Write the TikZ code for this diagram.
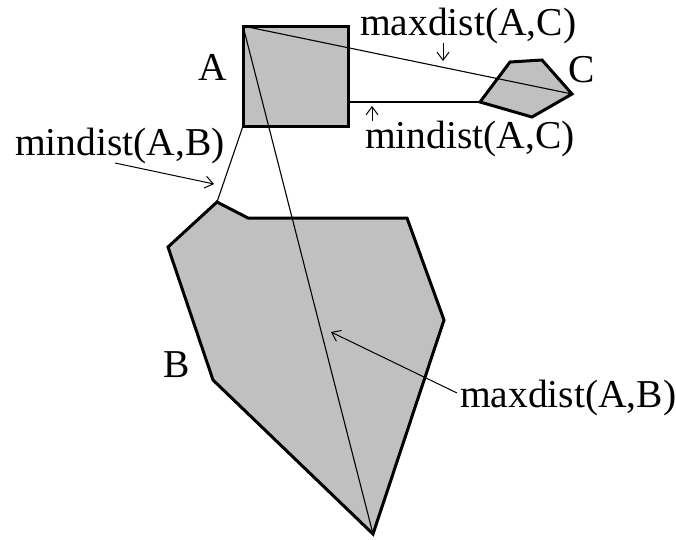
\documentclass[tikz,border=0pt]{standalone}
\usepackage{fontspec}
\setmainfont{Liberation Serif}
\usepackage{tikz}
\usetikzlibrary{arrows.meta, calc}
\definecolor{RegionGray}{RGB}{192,192,192}

\tikzset{
  region/.style={fill=RegionGray, draw=black, line width=3pt, line join=miter},
  distline/.style={draw=black, line width=1.1pt},
  pointer/.style={draw=black, line width=1pt, -{Straight Barb[length=8pt, width=12pt]}},
  lbl/.style={inner sep=0pt, anchor=base west, font=\fontsize{39.5}{42}\selectfont}
}

\begin{document}
\begin{tikzpicture}[x=1pt, y=-1pt]

  % Canvas
  \useasboundingbox (0,0) rectangle (676,539);

  % Region A (square)
  \coordinate (a1) at (243,26);
  \coordinate (a2) at (348,26);
  \coordinate (a3) at (348,126);
  \coordinate (a4) at (243,126);
  \draw[region] (a1) -- (a2) -- (a3) -- (a4) -- cycle;

  % Region C
  \coordinate (c1) at (510,62);
  \coordinate (c2) at (542,60);
  \coordinate (c3) at (572,94);
  \coordinate (c4) at (532,117);
  \coordinate (c5) at (480,102);
  \draw[region] (c1) -- (c2) -- (c3) -- (c4) -- (c5) -- cycle;

  % Region B
  \coordinate (b1) at (217,202);
  \coordinate (b2) at (248,218);
  \coordinate (b3) at (407,218);
  \coordinate (b4) at (444,320);
  \coordinate (b5) at (373,534);
  \coordinate (b6) at (213,380);
  \coordinate (b7) at (168,247);
  \draw[region] (b1) -- (b2) -- (b3) -- (b4) -- (b5) -- (b6) -- (b7) -- cycle;

  % Distances
  \coordinate (a3c) at (348,102);
  \draw[distline] (a1) -- (c3);
  \draw[distline] (a3c) -- (c5);
  \draw[distline] (a4) -- (b1);
  \draw[distline] (a1) -- (b5);

  % Region names
  \node[inner sep=0pt, anchor=base, font=\fontsize{39.5}{42}\selectfont] (nameA) at (213,80) {A};
  \node[lbl] (nameC) at (568,82) {C};
  \node[lbl] (nameB) at (163,377) {B};

  % Distance labels
  \node[lbl] (maxAC) at (360,35) {maxdist(A,C)};
  \node[lbl] (minAC) at (365,148) {mindist(A,C)};
  \node[lbl] (minAB) at (15,155) {mindist(A,B)};
  \node[lbl] (maxAB) at (460,407) {maxdist(A,B)};

  % Pointers
  \coordinate (pAC1) at (443,43);
  \coordinate (tAC1) at (443,61);
  \coordinate (pAC2) at (372,121);
  \coordinate (tAC2) at (372,106);
  \coordinate (pAB1) at (115,163);
  \coordinate (tAB1) at (214,184);
  \coordinate (pAB2) at (457,393);
  \coordinate (tAB2) at (331,332);
  \draw[pointer] (pAC1) -- (tAC1);
  \draw[pointer] (pAC2) -- (tAC2);
  \draw[pointer] (pAB1) -- (tAB1);
  \draw[pointer] (pAB2) -- (tAB2);

\end{tikzpicture}
\end{document}
